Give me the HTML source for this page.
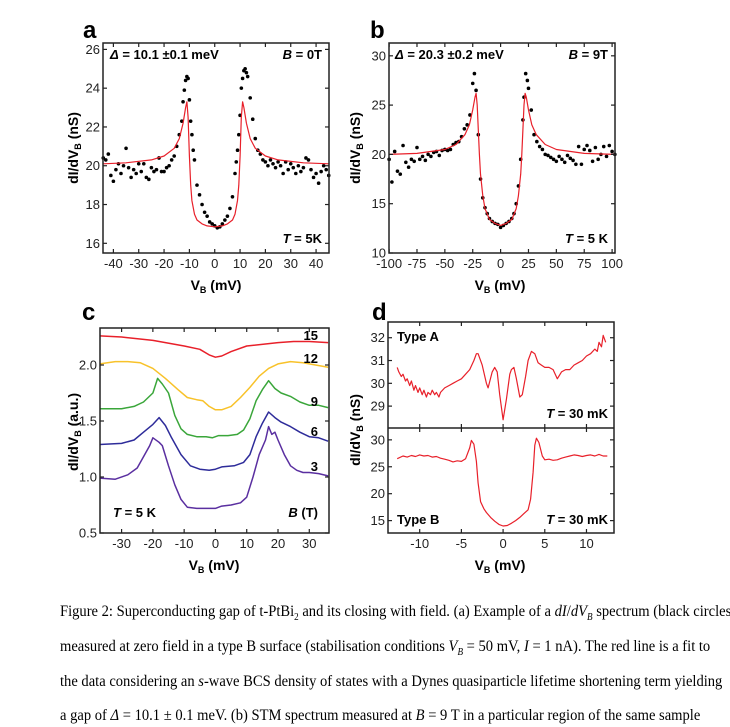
<!DOCTYPE html>
<html><head><meta charset="utf-8">
<style>
html,body{margin:0;padding:0;background:#fff;width:730px;height:727px;overflow:hidden}
svg{position:absolute;left:0;top:0}
.cap{position:absolute;left:60px;font-family:"Liberation Serif",serif;font-size:16px;white-space:nowrap;transform:scaleX(0.91);transform-origin:left center;color:#000}
</style></head><body>
<svg id="fig" width="730" height="600" viewBox="0 0 730 600" font-family="Liberation Sans, Arial, sans-serif"></svg>
<div class="cap" style="top:603px">Figure 2: Superconducting gap of t-PtBi<sub style="font-size:10px">2</sub> and its closing with field. (a) Example of a <i>dI</i>/<i>dV<sub style="font-size:10px">B</sub></i> spectrum (black circles)</div>
<div class="cap" style="top:638px">measured at zero field in a type B surface (stabilisation conditions <i>V<sub style="font-size:10px">B</sub></i> = 50 mV, <i>I</i> = 1 nA). The red line is a fit to</div>
<div class="cap" style="top:673px">the data considering an <i>s</i>-wave BCS density of states with a Dynes quasiparticle lifetime shortening term yielding</div>
<div class="cap" style="top:707px">a gap of <i>Δ</i> = 10.1 ± 0.1 meV. (b) STM spectrum measured at <i>B</i> = 9 T in a particular region of the same sample</div>
<script>
// ---- Panel a data ----
const aFitX=[-44,-35,-25,-20,-16,-14,-12.5,-11.5,-11,-10.5,-10,-9.5,-9,-8,-7,-5,-3,0,3,5,7,8,9,9.5,10,10.5,11,11.5,12.5,14,16,20,25,35,45];
const aFitY=[20.1,20.15,20.3,20.5,20.9,21.4,22.2,23.0,23.3,22.5,20.5,19.0,18.2,17.5,17.2,17.0,16.9,16.85,16.9,17.0,17.2,17.5,18.2,19.0,20.5,22.5,23.3,23.0,22.2,21.4,20.9,20.5,20.3,20.15,20.1];
const aPtX=[-44,-43,-42,-41,-40,-39,-38,-37,-36,-35,-34,-33,-32,-31,-30,-29,-28,-27,-26,-25,-24,-23,-22,-21,-20,-19,-18,-17,-16,-15,-14,-13,-12.5,-12,-11.5,-11,-10.5,-10,-9.5,-9,-8.5,-8,-7,-6,-5,-4,-3,-2,-1,0,1,2,3,4,5,6,7,8,8.5,9,9.5,10,10.5,11,11.5,12,12.5,13,14,15,16,17,18,19,20,21,22,23,24,25,26,27,28,29,30,31,32,33,34,35,36,37,38,39,40,41,42,43,44,45];
const aPtY=[20.4,20.3,20.6,19.5,19.2,19.8,20.1,19.6,20.0,20.9,19.9,19.4,19.8,19.6,20.1,19.7,20.1,19.4,19.3,19.9,19.7,19.8,20.4,19.7,19.7,19.9,20.0,20.3,20.5,21.0,21.6,22.3,23.3,23.9,24.4,24.6,24.5,23.4,22.3,21.6,20.8,20.3,19.0,18.5,18.0,17.6,17.4,17.1,17.0,16.9,16.8,16.85,17.0,17.2,17.4,17.8,18.4,19.6,20.2,20.8,21.6,22.6,24.0,24.5,24.9,25.0,24.8,24.6,23.5,22.4,21.4,20.8,20.6,20.3,20.2,20.0,20.3,20.1,19.9,20.2,20.0,19.6,20.2,19.8,20.1,19.9,19.6,20.0,19.7,19.9,20.4,20.3,19.8,19.4,19.6,19.1,19.7,20.0,19.8,19.5];
const aYTicks=[16,18,20,22,24,26];
const aXTicks=[-40,-30,-20,-10,0,10,20,30,40];
// ---- Panel b data ----
const bFitX=[-100,-75,-50,-40,-32,-28,-25,-23,-22,-21,-20,-19,-18,-16,-14,-10,-5,0,5,10,14,16,18,19,20,21,22,23,25,28,32,40,50,75,102];
const bFitY=[20.0,20.1,20.5,21.0,22.0,23.0,24.5,25.8,26.2,25.0,22.5,20.0,18.0,15.8,14.5,13.4,13.0,12.8,13.0,13.4,14.5,15.8,18.0,20.0,22.5,25.0,26.2,25.8,24.5,23.0,22.0,21.0,20.5,20.1,20.0];
const bPtX=[-100,-97.5,-95,-92.5,-90,-87.5,-85,-82.5,-80,-77.5,-75,-72.5,-70,-67.5,-65,-62.5,-60,-57.5,-55,-52.5,-50,-47.5,-45,-42.5,-40,-37.5,-35,-32.5,-30,-27.5,-25,-23.5,-22,-20,-18,-16,-14,-12,-10,-7.5,-5,-2.5,0,2.5,5,7.5,10,12,14,16,18,20,21,22.5,24,25,27.5,30,32.5,35,37.5,40,42.5,45,47.5,50,52.5,55,57.5,60,62.5,65,67.5,70,72.5,75,77.5,80,82.5,85,87.5,90,92.5,95,97.5,100,102.5];
const bPtY=[19.5,17.2,20.3,18.3,18.0,20.9,19.2,18.7,19.5,19.3,20.7,19.5,19.8,19.4,20.0,19.8,20.2,20.3,19.9,20.4,20.5,20.4,20.5,21.0,21.2,21.3,21.8,22.6,23.0,24.0,27.2,28.2,26.5,22.0,17.5,15.6,14.6,14.0,13.5,13.2,13.0,12.9,12.6,12.8,13.0,13.2,13.5,14.0,15.0,16.8,19.5,23.5,25.8,28.2,27.5,26.7,24.5,22.0,21.3,20.8,20.5,20.0,19.9,19.7,19.5,19.3,19.8,19.5,19.2,19.9,19.6,19.4,19.0,20.8,19.0,20.5,20.9,20.4,19.3,20.7,19.5,20.0,20.8,19.8,20.9,20.3,20.0];
const bYTicks=[10,15,20,25,30];
const bXTicks=[-100,-75,-50,-25,0,25,50,75,100];
// ---- Panel c data ----
const c15X=[-37,-30,-20,-10,-5,-2,0,2,5,10,20,25,30,36];
const c15Y=[2.26,2.25,2.22,2.17,2.14,2.09,2.07,2.08,2.12,2.17,2.20,2.21,2.21,2.20];
const c12X=[-37,-32,-28,-24,-20,-16,-12,-9,-6,-4,-2,0,2,5,8,11,14,17,20,24,28,32,36];
const c12Y=[2.01,2.03,2.03,2.02,1.97,1.88,1.78,1.71,1.69,1.68,1.63,1.60,1.60,1.63,1.71,1.80,1.90,1.97,2.01,2.03,2.02,2.00,1.98];
const c9X=[-37,-30,-26,-23,-20,-18.5,-17,-15,-13,-11,-9,-6,-3,-1,1,4,7,9,11,13,15,17,19,21,24,27,30,33,36];
const c9Y=[1.61,1.61,1.63,1.67,1.75,1.88,1.83,1.75,1.55,1.43,1.38,1.36,1.36,1.35,1.37,1.37,1.38,1.42,1.52,1.68,1.78,1.86,1.79,1.75,1.72,1.67,1.64,1.64,1.62];
const c6X=[-37,-30,-26,-23,-20,-18,-16,-14,-11,-8,-5,-2,0,2,6,9,11,13,15,17,19,21,24,27,30,33,36];
const c6Y=[1.29,1.30,1.33,1.40,1.47,1.53,1.46,1.35,1.20,1.10,1.07,1.06,1.07,1.09,1.10,1.13,1.20,1.36,1.48,1.58,1.53,1.49,1.45,1.40,1.36,1.35,1.32];
const c3X=[-37,-32,-28,-25,-23,-21,-20,-18,-17,-15,-13,-11,-9,-6,-3,0,2,5,8,10,12,14,16,17,18,19,20,22,24,26,28,30,33,36];
const c3Y=[0.99,0.98,1.02,1.08,1.18,1.28,1.35,1.31,1.28,1.10,0.93,0.80,0.73,0.72,0.72,0.72,0.74,0.75,0.77,0.82,1.00,1.20,1.33,1.45,1.38,1.40,1.33,1.20,1.10,1.06,1.04,1.04,1.03,1.01];
const cSeriesNames=["15","12","9","6","3"];
const cYTicks=[0.5,1.0,1.5,2.0];
const cXTicks=[-30,-20,-10,0,10,20,30];
// ---- Panel d data ----
const dAX=[-12.7,-12.5,-12.2,-12,-11.7,-11.5,-11.2,-11,-10.7,-10.5,-10.2,-10,-9.7,-9.5,-9.2,-9,-8.7,-8.5,-8.2,-8,-7.7,-7.5,-7,-6.5,-6,-5.5,-5,-4.5,-4,-3.5,-3.2,-3,-2.5,-2,-1.8,-1.3,-1,-0.7,-0.4,0,0.4,0.8,1,1.3,1.6,2,2.3,2.7,3,3.4,3.8,4.2,4.6,5,5.5,6,6.5,7,7.5,8,8.5,9,9.5,10,10.5,11,11.3,11.5,11.8,12,12.3];
const dAY=[30.7,30.5,30.3,30.4,30.1,30.2,29.9,30.1,29.7,29.9,29.6,29.8,29.5,29.7,29.4,29.6,29.5,29.7,29.5,29.6,29.4,29.6,29.8,29.9,30.0,30.1,30.2,30.4,30.6,31.0,31.3,31.3,30.8,30.0,29.8,30.5,30.7,30.5,29.5,28.4,29.3,30.4,30.6,30.7,30.2,29.4,29.5,30.3,31.0,31.4,31.3,30.9,30.8,30.7,30.7,30.6,30.2,30.5,30.6,30.6,30.8,30.9,31.0,31.2,31.3,31.5,31.4,31.8,31.6,32.1,31.8];
const dBX=[-12.7,-12,-11.5,-11,-10.5,-10,-9.5,-9,-8.5,-8,-7.5,-7,-6.5,-6,-5.5,-5,-4.5,-4,-3.8,-3.5,-3.2,-3,-2.7,-2.3,-2,-1.5,-1,-0.5,0,0.5,1,1.5,2,2.5,3,3.3,3.6,3.8,4,4.3,4.7,5,5.5,6,6.5,7,7.5,8,8.5,9,9.5,10,10.5,11,11.5,12,12.5];
const dBY=[26.5,27.0,26.8,27.1,26.9,27.2,27.0,27.1,26.8,26.9,26.6,26.4,26.2,25.9,26.1,26.0,26.5,28.5,29.9,29.2,26.0,22.0,18.5,17.2,16.5,15.6,14.9,14.3,14.0,14.1,14.5,15.0,15.6,16.3,17.0,19.0,24.0,29.0,30.3,29.5,27.0,26.3,26.4,26.2,26.3,26.6,26.8,27.0,27.2,27.1,26.9,27.1,27.2,27.0,27.3,27.0,27.0];
const dAYTicks=[29,30,31,32];
const dBYTicks=[15,20,25,30];
const dXTicks=[-10,-5,0,5,10];

const NS="http://www.w3.org/2000/svg";
const svg=document.getElementById('fig');
function mk(tag,attrs,parent){const e=document.createElementNS(NS,tag);for(const k in attrs)e.setAttribute(k,attrs[k]);(parent||svg).appendChild(e);return e;}
function scale(d0,d1,r0,r1){return v=>r0+(v-d0)*(r1-r0)/(d1-d0);}
function txt(s,x,y,opt,name){const t=mk('text',Object.assign({x:x,y:y,'font-size':13,fill:'#000'},opt||{}));t.innerHTML=s;


return t;}

function frame(x0,y0,x1,y1,name){const r=mk('rect',{x:x0,y:y0,width:x1-x0,height:y1-y0,fill:'none',stroke:'#222','stroke-width':1.5});

}
function yAxis(ticks,sy,x0,x1,name,fmt){const g=mk('g',{});


ticks.forEach(v=>{const y=sy(v);mk('line',{x1:x0,x2:x0+4,y1:y,y2:y,stroke:'#222','stroke-width':1.2},g);mk('line',{x1:x1,x2:x1-4,y1:y,y2:y,stroke:'#222','stroke-width':1.2},g);
const t=mk('text',{x:x0-3,y:y+4.5,'text-anchor':'end','font-size':13,fill:'#222'},g);t.textContent=fmt?fmt(v):v;

});}
function xAxis(ticks,sx,y0,y1,name,labels){const g=mk('g',{});


ticks.forEach(v=>{const x=sx(v);mk('line',{x1:x,x2:x,y1:y1,y2:y1-4,stroke:'#222','stroke-width':1.2},g);mk('line',{x1:x,x2:x,y1:y0,y2:y0+4,stroke:'#222','stroke-width':1.2},g);
if(labels){const t=mk('text',{x:x,y:y1+15,'text-anchor':'middle','font-size':13,fill:'#222'},g);t.textContent=v;

}});}
function path(xs,ys,sx,sy,color,w,name){let d='';xs.forEach((x,i)=>{d+=(i?'L':'M')+sx(x).toFixed(1)+','+sy(ys[i]).toFixed(1);});const p=mk('path',{d:d,fill:'none',stroke:color,'stroke-width':w,'stroke-linejoin':'round'});

}
function dots(xs,ys,sx,sy,name){const g=mk('g',{fill:'#000'});


xs.forEach((x,i)=>{mk('circle',{cx:sx(x),cy:sy(ys[i]),r:1.8},g);});}
function ytitle(x,y,unit,name){txt('dI/dV<tspan font-size="9" dy="3">B</tspan><tspan dy="-3"> ('+unit+')</tspan>',0,0,{'font-weight':'bold','font-size':14,'text-anchor':'middle',transform:'translate('+x+','+y+') rotate(-90)'},name);}
function xtitle(x,y,name){txt('V<tspan font-size="9" dy="3">B</tspan><tspan dy="-3"> (mV)</tspan>',x,y,{'font-weight':'bold','font-size':14,'text-anchor':'middle'},name);}
const B={'font-weight':'bold','font-size':13};

// Panel a
{const x0=103,x1=329,y0=43,y1=253;const sx=scale(-44.1,45.1,x0,x1),sy=scale(15.5,26.33,y1,y0);
dots(aPtX,aPtY,sx,sy,'panel-a-data-points');path(aFitX,aFitY,sx,sy,'#e8202a',1.2,'panel-a-fit-line');
frame(x0,y0,x1,y1,'panel-a-frame');yAxis(aYTicks,sy,x0,x1,'panel-a-y-axis');xAxis(aXTicks,sx,y0,y1,'panel-a-x-axis',true);
txt('a',83,38,{'font-weight':'bold','font-size':24},'panel-a-label');
txt('<tspan font-style="italic">Δ</tspan> = 10.1 ±0.1 meV',110,59,B,'panel-a-gap-annotation');
txt('<tspan font-style="italic">B</tspan> = 0T',322,59,Object.assign({'text-anchor':'end'},B),'panel-a-field-annotation');
txt('<tspan font-style="italic">T</tspan> = 5K',322,243,Object.assign({'text-anchor':'end'},B),'panel-a-temperature-annotation');
ytitle(78,148,'nS','panel-a-y-axis-title');xtitle(216,290,'panel-a-x-axis-title');}
// Panel b
{const x0=389,x1=615,y0=43,y1=253;const sx=scale(-100.1,102.6,x0,x1),sy=scale(10,31.3,y1,y0);
dots(bPtX,bPtY,sx,sy,'panel-b-data-points');path(bFitX,bFitY,sx,sy,'#e8202a',1.2,'panel-b-fit-line');
frame(x0,y0,x1,y1,'panel-b-frame');yAxis(bYTicks,sy,x0,x1,'panel-b-y-axis');xAxis(bXTicks,sx,y0,y1,'panel-b-x-axis',true);
txt('b',370,38,{'font-weight':'bold','font-size':24},'panel-b-label');
txt('<tspan font-style="italic">Δ</tspan> = 20.3 ±0.2 meV',395,59,B,'panel-b-gap-annotation');
txt('<tspan font-style="italic">B</tspan> = 9T',608,59,Object.assign({'text-anchor':'end'},B),'panel-b-field-annotation');
txt('<tspan font-style="italic">T</tspan> = 5 K',608,243,Object.assign({'text-anchor':'end'},B),'panel-b-temperature-annotation');
ytitle(360,148,'nS','panel-b-y-axis-title');xtitle(500,290,'panel-b-x-axis-title');}
// Panel c
{const x0=100,x1=329,y0=328,y1=533;const sx=scale(-36.9,36.3,x0,x1),sy=scale(0.5,2.0,y1,365);
const xs=[c15X,c12X,c9X,c6X,c3X],ys=[c15Y,c12Y,c9Y,c6Y,c3Y],cols=['#e8202a','#f8c22a','#3aa63a','#2e2c9a','#5a2fa0'];
xs.forEach((x,i)=>path(x,ys[i],sx,sy,cols[i],1.5,'panel-c-curve-'+cSeriesNames[i]+'T'));
frame(x0,y0,x1,y1,'panel-c-frame');yAxis(cYTicks,sy,x0,x1,'panel-c-y-axis',v=>v.toFixed(1));xAxis(cXTicks,sx,y0,y1,'panel-c-x-axis',true);
txt('c',82,320,{'font-weight':'bold','font-size':24},'panel-c-label');
const lp=[[318,340],[318,363],[318,406],[318,436],[318,471]];
cSeriesNames.forEach((n,i)=>txt(n,lp[i][0],lp[i][1],Object.assign({'text-anchor':'end'},B),'panel-c-series-label-'+n));
txt('<tspan font-style="italic">T</tspan> = 5 K',113,517,B,'panel-c-temperature-annotation');
txt('<tspan font-style="italic">B</tspan> (T)',318,517,Object.assign({'text-anchor':'end'},B),'panel-c-field-legend-title');
ytitle(78,432,'a.u.','panel-c-y-axis-title');xtitle(214,570,'panel-c-x-axis-title');}
// Panel d
{const x0=388,x1=614,y0=322,ym=428,y1=533;const sx=scale(-13.8,13.3,x0,x1);
const syA=scale(28.04,32.69,ym,y0),syB=scale(12.7,32.2,y1,ym);
path(dAX,dAY,sx,syA,'#e8202a',1.2,'panel-d-type-a-curve');path(dBX,dBY,sx,syB,'#e8202a',1.2,'panel-d-type-b-curve');
frame(x0,y0,x1,y1,'panel-d-frame');
const l=mk('line',{x1:x0,x2:x1,y1:ym,y2:ym,stroke:'#222','stroke-width':1.5});


yAxis(dAYTicks,syA,x0,x1,'panel-d-top-y-axis');yAxis(dBYTicks,syB,x0,x1,'panel-d-bottom-y-axis');
xAxis(dXTicks,sx,ym,ym,'panel-d-mid-x-ticks',false);xAxis(dXTicks,sx,y0,y1,'panel-d-x-axis',true);
txt('d',372,320,{'font-weight':'bold','font-size':24},'panel-d-label');
txt('Type A',397,341,B,'panel-d-type-a-label');
txt('<tspan font-style="italic">T</tspan> = 30 mK',608,418,Object.assign({'text-anchor':'end'},B),'panel-d-type-a-temperature');
txt('Type B',397,524,B,'panel-d-type-b-label');
txt('<tspan font-style="italic">T</tspan> = 30 mK',608,524,Object.assign({'text-anchor':'end'},B),'panel-d-type-b-temperature');
ytitle(360,430,'nS','panel-d-y-axis-title');xtitle(500,570,'panel-d-x-axis-title');}
</script>
</body></html>
